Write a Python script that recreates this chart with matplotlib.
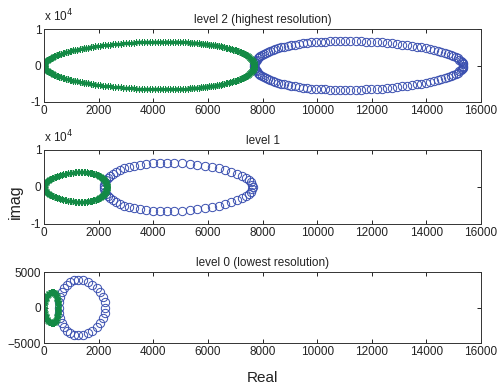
import numpy as np
import matplotlib.pyplot as plt
from matplotlib.ticker import FuncFormatter

plt.rcParams['font.family'] = ['Liberation Sans', 'DejaVu Sans']

# Each curve is a closed loop in the complex plane
titles = ['level 2 (highest resolution)', 'level 1', 'level 0 (lowest resolution)']

# blue loops (circles): centre on real axis, half-width, half-height, peak shift, point count
blue_center = [11525, 4925, 1400]
blue_halfwidth = [3825, 2725, 850]
blue_halfheight = [6700, 6500, 3900]
blue_shift = [-500, -425, -150]
blue_count = [128, 64, 32]

# green loops (asterisks)
green_center = [3850, 1150, 260]
green_halfwidth = [3850, 1150, 260]
green_halfheight = [6500, 4000, 2200]
green_shift = [500, 200, 40]
green_count = [256, 128, 64]

ylims = [(-1e4, 1e4), (-1e4, 1e4), (-5000, 5000)]
yticks = [[-1e4, 0, 1e4], [-1e4, 0, 1e4], [-5000, 0, 5000]]
xticks = [0, 2000, 4000, 6000, 8000, 10000, 12000, 14000, 16000]

blue = '#3a4fb0'
green = '#138a45'
text_color = '#222222'


def loop(c, a, b, s, n):
    t = np.linspace(0, 2 * np.pi, n, endpoint=False)
    return c - a * np.cos(t) + s * np.sin(t) ** 2, b * np.sin(t)


fig = plt.figure(figsize=(4.98, 3.92), dpi=100)
positions = [[0.0884, 0.7398, 0.8775, 0.1862],
             [0.0884, 0.4286, 0.8775, 0.1888],
             [0.0884, 0.1250, 0.8775, 0.1810]]

for i in range(3):
    ax = fig.add_axes(positions[i])
    xb, yb = loop(blue_center[i], blue_halfwidth[i], blue_halfheight[i], blue_shift[i], blue_count[i])
    xg, yg = loop(green_center[i], green_halfwidth[i], green_halfheight[i], green_shift[i], green_count[i])
    ax.plot(xb, yb, 'o', mfc='none', mec=blue, ms=6, mew=0.7)
    ax.plot(xg, yg, ls='none', marker=(6, 2, 0), color=green, ms=5, mew=0.55)
    ax.set_xlim(0, 16000)
    ax.set_ylim(*ylims[i])
    ax.set_xticks(xticks)
    ax.set_yticks(yticks[i])
    ax.tick_params(direction='in', top=True, right=True, length=3, width=0.6,
                   labelsize=8.5, pad=2, labelcolor=text_color)
    for sp in ax.spines.values():
        sp.set_linewidth(0.7)
        sp.set_color('#333333')
    if i < 2:
        ax.yaxis.set_major_formatter(FuncFormatter(lambda v, p: f'{v / 1e4:g}'))
        ax.text(0.0, 1.06, r'x 10$^4$', transform=ax.transAxes, fontsize=8.5,
                ha='left', va='bottom', color=text_color)
    ax.set_title(titles[i], fontsize=8.5, pad=4, color=text_color)

fig.text(0.03, 0.485, 'imag', rotation=90, fontsize=11.5, ha='center', va='center', color=text_color)
fig.text(0.527, 0.035, 'Real', fontsize=11, ha='center', va='center', color=text_color)

fig.savefig('out.png', dpi=100)
